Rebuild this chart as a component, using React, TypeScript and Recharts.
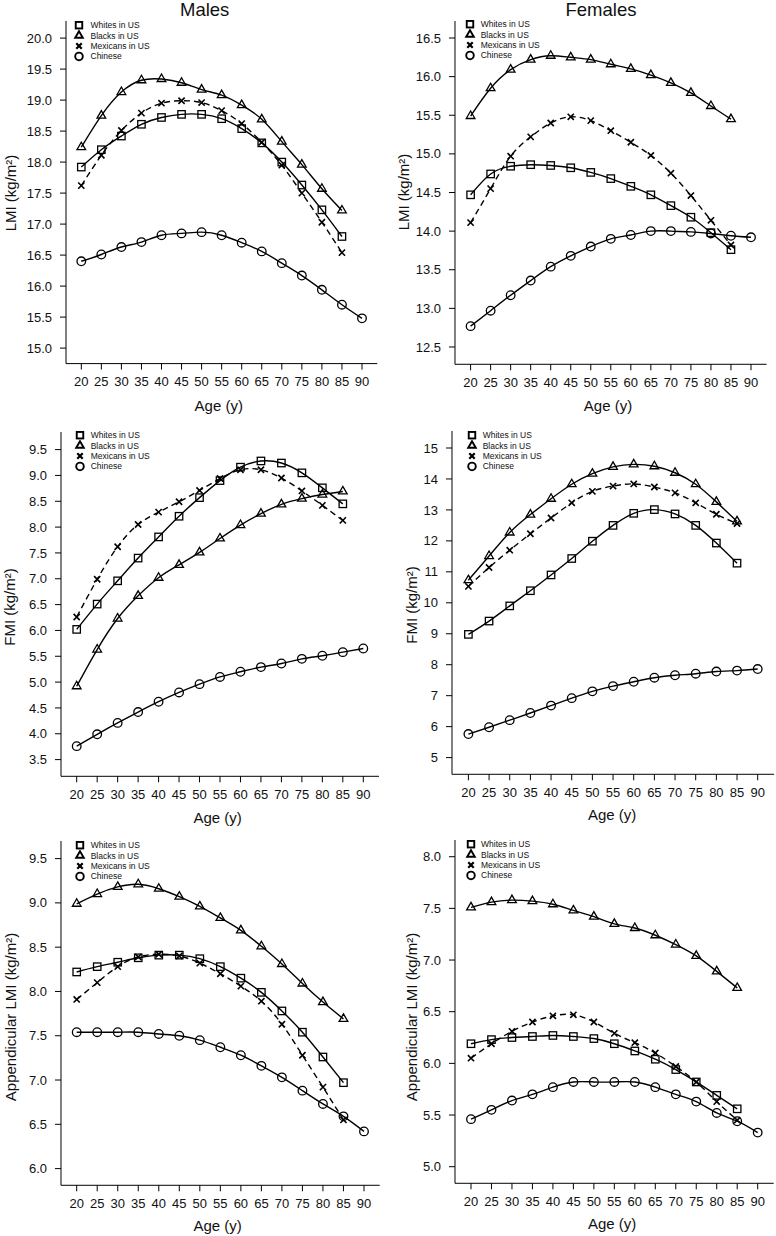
import React from 'react';
import { LineChart, Line, XAxis, YAxis, Legend } from 'recharts';

const FONT = '"Liberation Sans", Arial, Helvetica, sans-serif';
const INK = '#111';

// ---------- data ----------
const ages = [20, 25, 30, 35, 40, 45, 50, 55, 60, 65, 70, 75, 80, 85, 90];
const groupNames = ['Whites in US', 'Blacks in US', 'Mexicans in US', 'Chinese'];

// Males LMI
const mLmiWhites = [17.92, 18.2, 18.42, 18.61, 18.72, 18.77, 18.77, 18.7, 18.54, 18.31, 18.0, 17.63, 17.23, 16.8];
const mLmiBlacks = [18.24, 18.75, 19.13, 19.32, 19.34, 19.28, 19.17, 19.08, 18.92, 18.69, 18.33, 17.96, 17.57, 17.22];
const mLmiMexicans = [17.62, 18.11, 18.51, 18.79, 18.95, 18.99, 18.96, 18.83, 18.62, 18.32, 17.95, 17.5, 17.03, 16.54];
const mLmiChinese = [16.4, 16.51, 16.63, 16.71, 16.82, 16.85, 16.87, 16.82, 16.7, 16.56, 16.37, 16.17, 15.94, 15.7, 15.48];

// Females LMI
const fLmiWhites = [14.47, 14.74, 14.84, 14.86, 14.85, 14.82, 14.76, 14.68, 14.58, 14.47, 14.33, 14.18, 13.98, 13.76];
const fLmiBlacks = [15.49, 15.85, 16.09, 16.22, 16.27, 16.25, 16.22, 16.16, 16.1, 16.02, 15.92, 15.79, 15.62, 15.45];
const fLmiMexicans = [14.11, 14.55, 14.97, 15.22, 15.4, 15.48, 15.43, 15.3, 15.15, 14.98, 14.75, 14.46, 14.14, 13.82];
const fLmiChinese = [12.77, 12.97, 13.17, 13.36, 13.54, 13.68, 13.8, 13.9, 13.95, 14.0, 14.0, 13.99, 13.97, 13.94, 13.92];

// Males FMI
const mFmiWhites = [6.02, 6.51, 6.96, 7.4, 7.81, 8.21, 8.57, 8.9, 9.16, 9.28, 9.24, 9.05, 8.76, 8.45];
const mFmiBlacks = [4.92, 5.63, 6.23, 6.67, 7.02, 7.27, 7.51, 7.78, 8.04, 8.26, 8.44, 8.55, 8.63, 8.69];
const mFmiMexicans = [6.26, 6.99, 7.62, 8.05, 8.29, 8.49, 8.71, 8.94, 9.11, 9.11, 8.95, 8.7, 8.42, 8.13];
const mFmiChinese = [3.76, 3.99, 4.21, 4.42, 4.62, 4.8, 4.96, 5.1, 5.2, 5.29, 5.36, 5.45, 5.51, 5.58, 5.65];

// Females FMI
const fFmiWhites = [8.98, 9.41, 9.9, 10.39, 10.9, 11.43, 11.99, 12.5, 12.89, 13.01, 12.87, 12.5, 11.93, 11.28];
const fFmiBlacks = [10.73, 11.51, 12.27, 12.85, 13.36, 13.83, 14.17, 14.39, 14.47, 14.41, 14.2, 13.83, 13.26, 12.63];
const fFmiMexicans = [10.53, 11.14, 11.7, 12.23, 12.74, 13.23, 13.6, 13.77, 13.84, 13.74, 13.55, 13.23, 12.86, 12.56];
const fFmiChinese = [5.76, 5.98, 6.21, 6.44, 6.68, 6.92, 7.14, 7.31, 7.45, 7.58, 7.66, 7.71, 7.78, 7.81, 7.86];

// Males appendicular LMI
const mAlmiWhites = [8.22, 8.28, 8.33, 8.38, 8.41, 8.41, 8.37, 8.28, 8.15, 7.99, 7.78, 7.54, 7.26, 6.97];
const mAlmiBlacks = [8.99, 9.1, 9.18, 9.21, 9.16, 9.07, 8.96, 8.83, 8.69, 8.51, 8.31, 8.09, 7.88, 7.69];
const mAlmiMexicans = [7.91, 8.1, 8.28, 8.39, 8.42, 8.4, 8.32, 8.2, 8.06, 7.89, 7.63, 7.28, 6.92, 6.55];
const mAlmiChinese = [7.54, 7.54, 7.54, 7.54, 7.52, 7.5, 7.45, 7.37, 7.28, 7.16, 7.03, 6.88, 6.73, 6.59, 6.42];

// Females appendicular LMI
const fAlmiWhites = [6.19, 6.23, 6.25, 6.26, 6.27, 6.26, 6.24, 6.19, 6.12, 6.04, 5.94, 5.82, 5.69, 5.56];
const fAlmiBlacks = [7.51, 7.56, 7.58, 7.57, 7.54, 7.48, 7.42, 7.35, 7.31, 7.24, 7.15, 7.04, 6.89, 6.73];
const fAlmiMexicans = [6.05, 6.19, 6.31, 6.4, 6.46, 6.47, 6.4, 6.29, 6.2, 6.1, 5.97, 5.82, 5.63, 5.45];
const fAlmiChinese = [5.46, 5.55, 5.64, 5.7, 5.77, 5.82, 5.82, 5.82, 5.82, 5.77, 5.7, 5.63, 5.52, 5.44, 5.33];

// y-axis ticks
const ticksMLmi = [15.0, 15.5, 16.0, 16.5, 17.0, 17.5, 18.0, 18.5, 19.0, 19.5, 20.0];
const ticksFLmi = [12.5, 13.0, 13.5, 14.0, 14.5, 15.0, 15.5, 16.0, 16.5];
const ticksMFmi = [3.5, 4.0, 4.5, 5.0, 5.5, 6.0, 6.5, 7.0, 7.5, 8.0, 8.5, 9.0, 9.5];
const ticksFFmi = [5, 6, 7, 8, 9, 10, 11, 12, 13, 14, 15];
const ticksMAlmi = [6.0, 6.5, 7.0, 7.5, 8.0, 8.5, 9.0, 9.5];
const ticksFAlmi = [5.0, 5.5, 6.0, 6.5, 7.0, 7.5, 8.0];

function buildRows(w: number[], b: number[], m: number[], c: number[]) {
  return ages.map((age, i) => ({
    age,
    whites: i < w.length ? w[i] : null,
    blacks: i < b.length ? b[i] : null,
    mexicans: i < m.length ? m[i] : null,
    chinese: i < c.length ? c[i] : null,
  }));
}

// ---------- markers ----------
type MK = 'square' | 'triangle' | 'cross' | 'circle';

function Marker({ kind, cx, cy, sw, scale = 1 }: { kind: MK; cx: number; cy: number; sw: number; scale?: number }) {
  const common = { fill: 'none', stroke: '#000', strokeWidth: sw };
  if (kind === 'square') {
    const s = 7.4 * scale;
    return <rect x={cx - s / 2} y={cy - s / 2} width={s} height={s} {...common} />;
  }
  if (kind === 'triangle') {
    const r = 5 * scale;
    const h = r * Math.cos(Math.PI / 6);
    return <polygon points={`${cx},${cy - r} ${cx + h},${cy + r / 2} ${cx - h},${cy + r / 2}`} {...common} strokeLinejoin="miter" />;
  }
  if (kind === 'cross') {
    const h = 3.1 * scale;
    return <path d={`M${cx - h},${cy - h}L${cx + h},${cy + h}M${cx - h},${cy + h}L${cx + h},${cy - h}`} {...common} strokeWidth={sw + 0.3} />;
  }
  const r = 4.3 * scale;
  return <circle cx={cx} cy={cy} r={r} {...common} />;
}

const makeDot = (kind: MK) => (props: any) => {
  const { cx, cy, index, value } = props;
  if (cx == null || cy == null || value == null || Number.isNaN(cy)) return <g key={`n-${kind}-${index}`} />;
  return (
    <g key={`d-${kind}-${index}`}>
      <Marker kind={kind} cx={cx} cy={cy} sw={1.3} />
    </g>
  );
};

const kinds: MK[] = ['square', 'triangle', 'cross', 'circle'];

// ---------- panel layout ----------
type Panel = {
  rows: any[];
  yTicks: number[];
  decimals: number;
  x0: number; // y-axis line x
  x20: number; // pixel of age 20
  x90: number; // pixel of age 90
  y0: number; // top of plot
  y1: number; // x-axis line y
  yHi: number; yHiPos: number;
  yLo: number; yLoPos: number;
  legMarkX: number; legTextX: number; legRow1: number;
  yLabel: string; yLabelX: number; yLabelY: number;
  xLabelX: number; xLabelY: number;
};

const panels: Panel[] = [
  {
    rows: buildRows(mLmiWhites, mLmiBlacks, mLmiMexicans, mLmiChinese), yTicks: ticksMLmi, decimals: 1,
    x0: 65.7, x20: 81, x90: 361.7, y0: 20.7, y1: 363.3, yHi: 20, yHiPos: 37.8, yLo: 15, yLoPos: 347.8,
    legMarkX: 79.5, legTextX: 91, legRow1: 25.7,
    yLabel: 'LMI (kg/m²)', yLabelX: 9.5, yLabelY: 193, xLabelX: 218.8, xLabelY: 405.3,
  },
  {
    rows: buildRows(fLmiWhites, fLmiBlacks, fLmiMexicans, fLmiChinese), yTicks: ticksFLmi, decimals: 1,
    x0: 454.7, x20: 470.3, x90: 750.7, y0: 20.7, y1: 364, yHi: 16.5, yHiPos: 37.7, yLo: 12.5, yLoPos: 346.7,
    legMarkX: 470, legTextX: 480.7, legRow1: 24.3,
    yLabel: 'LMI (kg/m²)', yLabelX: 403, yLabelY: 192, xLabelX: 608, xLabelY: 404.7,
  },
  {
    rows: buildRows(mFmiWhites, mFmiBlacks, mFmiMexicans, mFmiChinese), yTicks: ticksMFmi, decimals: 1,
    x0: 61, x20: 76.7, x90: 363.3, y0: 431.7, y1: 776, yHi: 9.5, yHiPos: 449.3, yLo: 3.5, yLoPos: 759.3,
    legMarkX: 80, legTextX: 90.7, legRow1: 435.7,
    yLabel: 'FMI (kg/m²)', yLabelX: 8.7, yLabelY: 607, xLabelX: 217.7, xLabelY: 817,
  },
  {
    rows: buildRows(fFmiWhites, fFmiBlacks, fFmiMexicans, fFmiChinese), yTicks: ticksFFmi, decimals: 0,
    x0: 452.3, x20: 468.7, x90: 758, y0: 430.7, y1: 774, yHi: 15, yHiPos: 447.7, yLo: 5, yLoPos: 757.3,
    legMarkX: 472.3, legTextX: 483, legRow1: 435.3,
    yLabel: 'FMI (kg/m²)', yLabelX: 410.5, yLabelY: 605, xLabelX: 612.2, xLabelY: 813.8,
  },
  {
    rows: buildRows(mAlmiWhites, mAlmiBlacks, mAlmiMexicans, mAlmiChinese), yTicks: ticksMAlmi, decimals: 1,
    x0: 61, x20: 76.7, x90: 364, y0: 840.7, y1: 1185, yHi: 9.5, yHiPos: 858.3, yLo: 6.0, yLoPos: 1168.3,
    legMarkX: 80, legTextX: 90.7, legRow1: 845,
    yLabel: 'Appendicular LMI (kg/m²)', yLabelX: 9.5, yLabelY: 1016.7, xLabelX: 217.7, xLabelY: 1225.3,
  },
  {
    rows: buildRows(fAlmiWhites, fAlmiBlacks, fAlmiMexicans, fAlmiChinese), yTicks: ticksFAlmi, decimals: 1,
    x0: 455.3, x20: 471.3, x90: 758, y0: 840, y1: 1183.3, yHi: 8.0, yHiPos: 856.7, yLo: 5.0, yLoPos: 1166.7,
    legMarkX: 470.7, legTextX: 480.7, legRow1: 844.3,
    yLabel: 'Appendicular LMI (kg/m²)', yLabelX: 410.5, yLabelY: 1016.7, xLabelX: 612.2, xLabelY: 1222.8,
  },
];

const YW = 60; // y-axis band width
const XH = 40; // x-axis band height
const MT = 10;
const MR = 10;
const ROW = 10.4;

function LegendBox({ p, chartLeft, chartTop }: { p: Panel; chartLeft: number; chartTop: number }) {
  const mx = 6;
  return (
    <svg width={90} height={ROW * 4 + 2} style={{ display: 'block', overflow: 'visible' }}>
      {groupNames.map((n, i) => {
        const cy = ROW / 2 + i * ROW;
        return (
          <g key={n}>
            <Marker kind={kinds[i]} cx={mx} cy={cy} sw={1.9} scale={0.88} />
            <text x={mx + (p.legTextX - p.legMarkX)} y={cy} dy="0.35em" fontSize={8.5} fontFamily={FONT} fill={INK}>
              {n}
            </text>
          </g>
        );
      })}
    </svg>
  );
}

function PanelChart({ p }: { p: Panel }) {
  const sx = (p.x90 - p.x20) / 70;
  const ext = (p.x20 - p.x0) / sx;
  const xDomain: [number, number] = [20 - ext, 90 + ext];
  const x1 = p.x90 + (p.x20 - p.x0);
  const sy = (p.yLoPos - p.yHiPos) / (p.yHi - p.yLo);
  const yDomain: [number, number] = [p.yLo - (p.y1 - p.yLoPos) / sy, p.yHi + (p.yHiPos - p.y0) / sy];

  const left = p.x0 - YW;
  const top = p.y0 - MT;
  const width = x1 - p.x0 + YW + MR;
  const height = p.y1 - p.y0 + MT + XH;

  const tickStyle = { fontSize: 13, fill: INK, fontFamily: FONT };

  return (
    <div style={{ position: 'absolute', left, top, width, height }}>
      <LineChart width={width} height={height} data={p.rows} margin={{ top: MT, right: MR, bottom: 0, left: 0 }}>
        <XAxis
          dataKey="age"
          type="number"
          domain={xDomain}
          ticks={ages}
          interval={0}
          allowDataOverflow
          height={XH}
          tickSize={6}
          tickMargin={7.5}
          axisLine={{ stroke: '#000', strokeWidth: 1 }}
          tickLine={{ stroke: '#000', strokeWidth: 1 }}
          tick={tickStyle}
        />
        <YAxis
          type="number"
          domain={yDomain}
          ticks={p.yTicks}
          interval={0}
          allowDataOverflow
          width={YW}
          tickSize={6}
          tickMargin={8}
          axisLine={{ stroke: '#000', strokeWidth: 1 }}
          tickLine={{ stroke: '#000', strokeWidth: 1 }}
          tick={tickStyle}
          tickFormatter={(v: number) => v.toFixed(p.decimals)}
        />
        <Legend
          layout="vertical"
          align="center"
          verticalAlign="middle"
          wrapperStyle={{ left: p.legMarkX - 6 - left, top: p.legRow1 - ROW / 2 - top, width: 90, height: ROW * 4 + 2 }}
          content={() => <LegendBox p={p} chartLeft={left} chartTop={top} />}
        />
        <Line dataKey="whites" name="Whites in US" type="natural" stroke="#000" strokeWidth={1.4} dot={makeDot('square')} activeDot={false} isAnimationActive={false} connectNulls={false} />
        <Line dataKey="blacks" name="Blacks in US" type="natural" stroke="#000" strokeWidth={1.4} dot={makeDot('triangle')} activeDot={false} isAnimationActive={false} connectNulls={false} />
        <Line dataKey="mexicans" name="Mexicans in US" type="natural" stroke="#000" strokeWidth={1.4} strokeDasharray="6 4" dot={makeDot('cross')} activeDot={false} isAnimationActive={false} connectNulls={false} />
        <Line dataKey="chinese" name="Chinese" type="natural" stroke="#000" strokeWidth={1.4} dot={makeDot('circle')} activeDot={false} isAnimationActive={false} connectNulls={false} />
      </LineChart>
    </div>
  );
}

function Txt({ x, y, size, children, rotate }: { x: number; y: number; size: number; children: React.ReactNode; rotate?: boolean }) {
  return (
    <div
      style={{
        position: 'absolute',
        left: x,
        top: y,
        transform: `translate(-50%, -50%)${rotate ? ' rotate(-90deg)' : ''}`,
        fontSize: size,
        fontFamily: FONT,
        lineHeight: 1,
        whiteSpace: 'nowrap',
        color: INK,
      }}
    >
      {children}
    </div>
  );
}

export default function App() {
  return (
    <div style={{ position: 'absolute', left: 0, top: 0, width: 776, height: 1236, background: '#fff', overflow: 'hidden' }}>
      <Txt x={204.7} y={10.3} size={18.5}>Males</Txt>
      <Txt x={601} y={10.3} size={18.5}>Females</Txt>
      {panels.map((p, i) => (
        <React.Fragment key={i}>
          <PanelChart p={p} />
          <Txt x={p.yLabelX} y={p.yLabelY} size={15} rotate>{p.yLabel}</Txt>
          <Txt x={p.xLabelX} y={p.xLabelY} size={15}>Age (y)</Txt>
        </React.Fragment>
      ))}
    </div>
  );
}
